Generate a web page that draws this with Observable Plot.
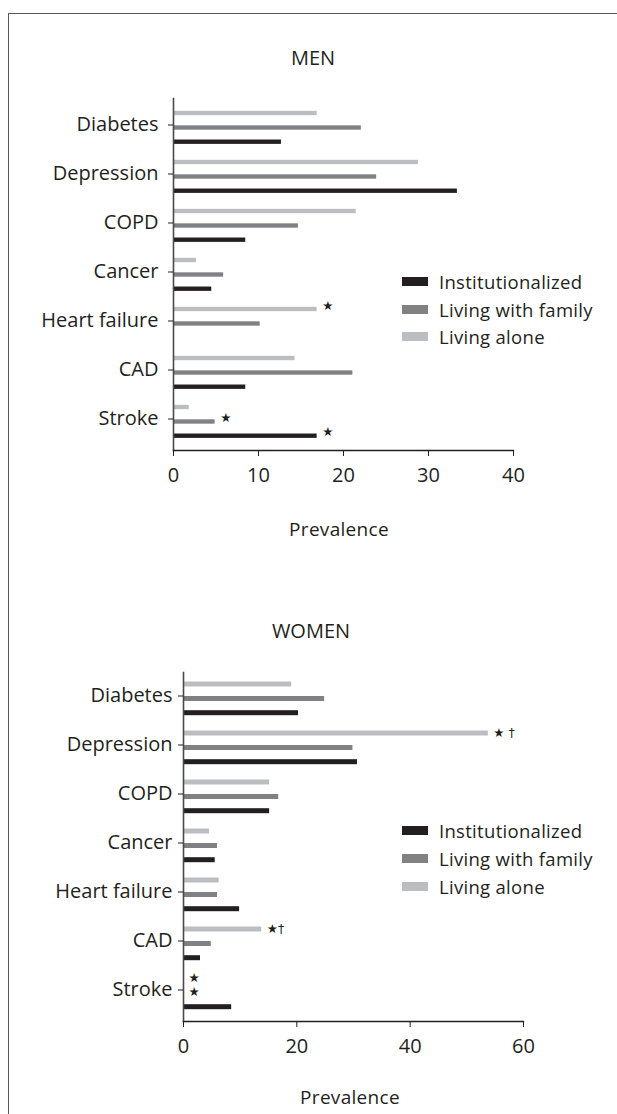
<!DOCTYPE html>
<html><head><meta charset="utf-8">
<script src="https://cdn.jsdelivr.net/npm/d3@7"></script>
<script src="https://cdn.jsdelivr.net/npm/@observablehq/plot@0.6"></script>
<style>
body{margin:0;background:#fff;}
#page{position:relative;width:617px;height:1114px;overflow:hidden;font-family:"Open Sans",Lato,sans-serif;color:#231f20;}
.border{position:absolute;left:8px;top:13px;right:-5px;bottom:-5px;border-left:1.5px solid #5a5a5a;border-top:1.5px solid #5a5a5a;}
.title{position:absolute;width:200px;text-align:center;font-size:20px;line-height:20px;}
.chart{position:absolute;left:0;}
.xlabel{position:absolute;width:200px;text-align:center;font-size:19px;line-height:20px;letter-spacing:0.3px;}
.lg{position:absolute;left:402px;height:20px;display:flex;align-items:center;font-size:18.5px;letter-spacing:0.3px;white-space:nowrap;}
.sw{width:26px;height:9px;margin-right:11px;}
</style></head>
<body><div id="page"><div class="border"></div></div>
<script>
const categories = ["Diabetes","Depression","COPD","Cancer","Heart failure","CAD","Stroke"];
const groups = ["Living alone","Living with family","Institutionalized"];
const legendOrder = ["Institutionalized","Living with family","Living alone"];
const colors = ["#bcbdc0","#818184","#231f20"];

const menAlone  = [16.9, 28.8, 21.5, 2.7, 16.9, 14.3, 1.85];
const menFamily = [22.1, 23.9, 14.7, 5.9, 10.2, 21.1, 4.9];
const menInst   = [12.7, 33.4, 8.5, 4.5, null, 8.5, 16.9];

const womenAlone  = [19.1, 53.8, 15.2, 4.6, 6.3, 13.8, 0];
const womenFamily = [24.9, 29.9, 16.8, 6.0, 6.0, 4.9, 0];
const womenInst   = [20.3, 30.7, 15.2, 5.6, 9.9, 3.0, 8.5];

const menTicks = [0, 10, 20, 30, 40];
const womenTicks = [0, 20, 40, 60];

const menNotes = [
  {category: "Heart failure", group: "Living alone", label: "★"},
  {category: "Stroke", group: "Living with family", label: "★"},
  {category: "Stroke", group: "Institutionalized", label: "★"}
];
const womenNotes = [
  {category: "Depression", group: "Living alone", label: "★ †"},
  {category: "CAD", group: "Living alone", label: "★†"},
  {category: "Stroke", group: "Living alone", label: "★"},
  {category: "Stroke", group: "Living with family", label: "★"}
];

function table(series) {
  const rows = [];
  groups.forEach((g, gi) => categories.forEach((c, ci) => {
    rows.push({category: c, group: g, value: series[gi][ci]});
  }));
  return rows;
}

const offsets = {"Living alone": -14.5, "Living with family": 0, "Institutionalized": 14.2};

function makeChart({rows, notes, xmax, ticks, height, marginLeft, marginRight, marginTop, marginBottom, yRange, tickPadding, noteDy}) {
  const bw = (yRange[1] - yRange[0]) / categories.length;
  const barH = 5;
  const marks = [];
  groups.forEach((g, gi) => {
    const top = bw / 2 + offsets[g] - barH / 2;
    marks.push(Plot.barX(rows.filter(d => d.group === g && d.value != null && d.value > 0), {
      x: "value", y: "category", fill: colors[gi],
      insetTop: top, insetBottom: bw - top - barH
    }));
  });
  const lookup = new Map(rows.map(d => [d.category + "|" + d.group, d.value]));
  groups.forEach(g => {
    const ns = notes.filter(n => n.group === g).map(n => ({...n, value: lookup.get(n.category + "|" + n.group) || 0}));
    if (ns.length) marks.push(Plot.text(ns, {
      x: "value", y: "category", text: "label", textAnchor: "start",
      dx: 5, dy: offsets[g] + noteDy, fontSize: 12.5, fontFamily: "DejaVu Sans", fill: "#231f20"
    }));
  });
  marks.push(Plot.frame({anchor: "left", stroke: "#4a4a4a", strokeWidth: 1.6}));
  marks.push(Plot.frame({anchor: "bottom", stroke: "#231f20", strokeWidth: 1.3}));
  marks.push(Plot.axisY({tickSize: 5, tickPadding: tickPadding, fontSize: 20, dy: -3, stroke: "#231f20", fill: "#231f20", style: {letterSpacing: "0.4px"}}));
  marks.push(Plot.axisX({ticks: ticks, tickSize: 6, tickPadding: 11, fontSize: 20, stroke: "#231f20", fill: "#231f20", label: null}));
  return Plot.plot({
    width: 617, height, marginLeft, marginRight, marginTop, marginBottom,
    style: {fontFamily: "'Open Sans', Lato, sans-serif", color: "#231f20", background: "transparent"},
    x: {domain: [0, xmax], label: null},
    y: {type: "band", domain: categories, range: yRange, padding: 0, label: null},
    marks
  });
}

const page = document.getElementById("page");
function addDiv(cls, text, css) {
  const d = document.createElement("div");
  d.className = cls; if (text) d.textContent = text;
  Object.assign(d.style, css); page.appendChild(d); return d;
}

const men = makeChart({rows: table([menAlone, menFamily, menInst]), notes: menNotes, xmax: 40, ticks: menTicks,
  height: 560, marginLeft: 173, marginRight: 104, marginTop: 98, marginBottom: 110, yRange: [100.5, 448], tickPadding: 10, noteDy: -4});
men.classList.add("chart"); men.style.top = "0px"; page.appendChild(men);

const women = makeChart({rows: table([womenAlone, womenFamily, womenInst]), notes: womenNotes, xmax: 60, ticks: womenTicks,
  height: 554, marginLeft: 183, marginRight: 94, marginTop: 112, marginBottom: 93, yRange: [113.8, 456.8], tickPadding: 6, noteDy: -1});
women.classList.add("chart"); women.style.top = "560px"; page.appendChild(women);

addDiv("title", "MEN", {left: "213px", top: "48px"});
addDiv("title", "WOMEN", {left: "211px", top: "621px"});
addDiv("xlabel", "Prevalence", {left: "239px", top: "519px"});
addDiv("xlabel", "Prevalence", {left: "250px", top: "1087px"});

function legend(centers) {
  legendOrder.forEach((g, i) => {
    const d = addDiv("lg", null, {top: (centers[i] - 10) + "px"});
    const sw = document.createElement("div"); sw.className = "sw";
    sw.style.background = colors[groups.indexOf(g)];
    d.appendChild(sw);
    const t = document.createElement("span"); t.textContent = g; d.appendChild(t);
  });
}
legend([281.5, 309, 336.5]);
legend([830.5, 858.5, 886.7]);
</script></body></html>
